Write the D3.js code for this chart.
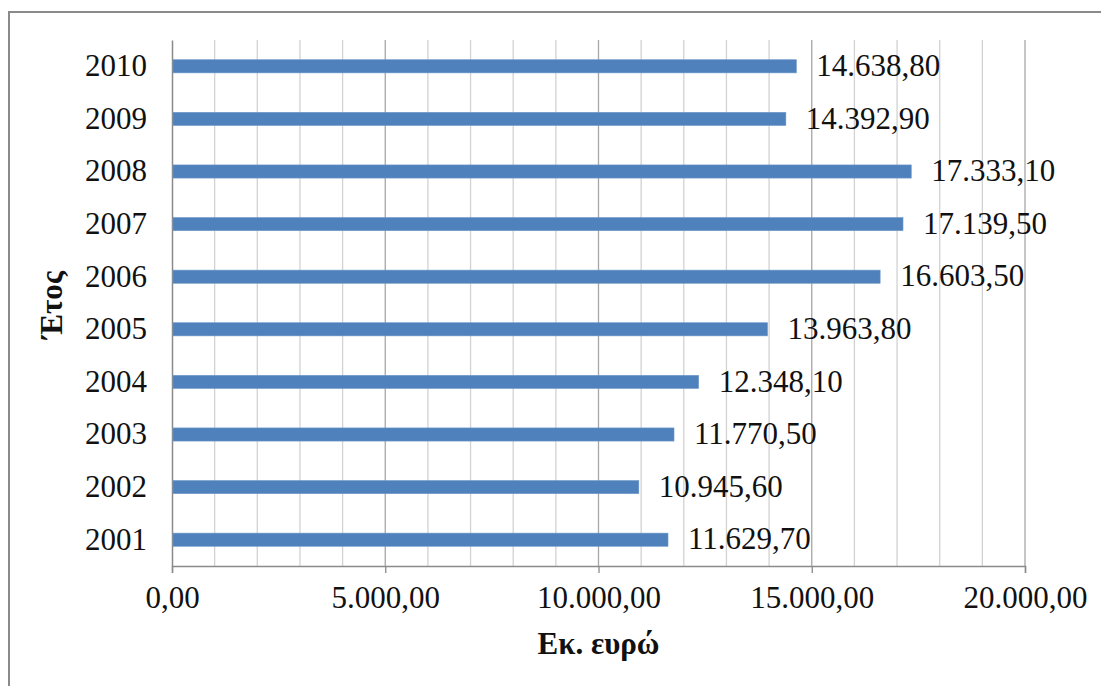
<!DOCTYPE html>
<html>
<head>
<meta charset="utf-8">
<script src="https://cdn.jsdelivr.net/npm/d3@7/dist/d3.min.js"></script>
<style>
  html, body { margin: 0; padding: 0; background: #fff; }
  svg { display: block; font-family: "Liberation Serif", "Times New Roman", serif; }
</style>
</head>
<body>
<svg id="chart" width="1101" height="686"></svg>
<script>
// ---- data ----
const years = ["2001", "2002", "2003", "2004", "2005", "2006", "2007", "2008", "2009", "2010"];
const values = [11629.70, 10945.60, 11770.50, 12348.10, 13963.80, 16603.50, 17139.50, 17333.10, 14392.90, 14638.80];
const majorTicks = [0, 5000, 10000, 15000, 20000];
const minorTicks = [1000, 2000, 3000, 4000, 6000, 7000, 8000, 9000, 11000, 12000, 13000, 14000, 16000, 17000, 18000, 19000];
const xTitle = "Εκ. ευρώ";
const yTitle = "Έτος";

(function () {
const FS = 31;
// Greek number format: "." thousands, "," decimal
const fmt = d3.formatLocale({ decimal: ",", thousands: ".", grouping: [3], currency: ["", "€"] }).format(",.2f");

const svg = d3.select("#chart");
const pL = 172, pR = 1025, pT = 40, pB = 566;

// chart border
svg.append("rect")
  .attr("x", 9).attr("y", 12)
  .attr("width", 1200).attr("height", 800)
  .attr("fill", "#fff").attr("stroke", "#8a8a8a").attr("stroke-width", 2);

const x = d3.scaleLinear().domain([0, 20000]).range([pL, pR]);
const y = d3.scaleBand().domain(years.slice().reverse()).range([pT, pB])
  .paddingInner(0.75).paddingOuter(0.375);

// minor gridlines
svg.append("g").selectAll("line").data(minorTicks).join("line")
  .attr("x1", d => x(d)).attr("x2", d => x(d))
  .attr("y1", pT).attr("y2", pB)
  .attr("stroke", "#d2d2d2").attr("stroke-width", 1.3);

// major gridlines
svg.append("g").selectAll("line").data(majorTicks.filter(d => d > 0)).join("line")
  .attr("x1", d => x(d)).attr("x2", d => x(d))
  .attr("y1", pT).attr("y2", pB)
  .attr("stroke", "#a6a6a6").attr("stroke-width", 1.3);

// x axis
const xAxis = svg.append("g")
  .attr("transform", `translate(0,${pB})`)
  .call(d3.axisBottom(x).tickValues(majorTicks).tickFormat(fmt).tickSize(7).tickPadding(13));
xAxis.select(".domain").attr("stroke", "#8a8a8a").attr("stroke-width", 1.5);
xAxis.selectAll(".tick line").attr("stroke", "#8a8a8a").attr("stroke-width", 1.3);
xAxis.selectAll(".tick text")
  .attr("font-family", "Liberation Serif, serif")
  .attr("font-size", FS).attr("fill", "#111");

// y axis
const yAxis = svg.append("g")
  .attr("transform", `translate(${pL},0)`)
  .call(d3.axisLeft(y).tickSize(0).tickPadding(25));
yAxis.select(".domain").attr("stroke", "#8a8a8a").attr("stroke-width", 1.5);
yAxis.selectAll(".tick text")
  .attr("font-family", "Liberation Serif, serif")
  .attr("font-size", FS).attr("fill", "#111");

// bars
const data = years.map((yr, i) => ({ year: yr, value: values[i] }));
svg.append("g").selectAll("rect").data(data).join("rect")
  .attr("x", x(0) + 1)
  .attr("y", d => y(d.year))
  .attr("width", d => x(d.value) - x(0) - 1)
  .attr("height", y.bandwidth())
  .attr("fill", "#4F81BD")
  .attr("stroke", "#6f98c8").attr("stroke-width", 0.6);

// value labels
svg.append("g").selectAll("text").data(data).join("text")
  .attr("x", d => x(d.value) + 20)
  .attr("y", d => y(d.year) + y.bandwidth() / 2)
  .attr("dy", "0.31em")
  .attr("font-size", FS).attr("fill", "#111")
  .text(d => fmt(d.value));

// axis titles
svg.append("text")
  .attr("x", x(10000)).attr("y", 654)
  .attr("text-anchor", "middle")
  .attr("font-size", FS).attr("font-weight", "bold").attr("fill", "#111")
  .text(xTitle);

svg.append("text")
  .attr("transform", `translate(62,${(pT + pB) / 2 + 2}) rotate(-90)`)
  .attr("text-anchor", "middle")
  .attr("font-size", FS).attr("font-weight", "bold").attr("fill", "#111")
  .text(yTitle);
})();
</script>
</body>
</html>
